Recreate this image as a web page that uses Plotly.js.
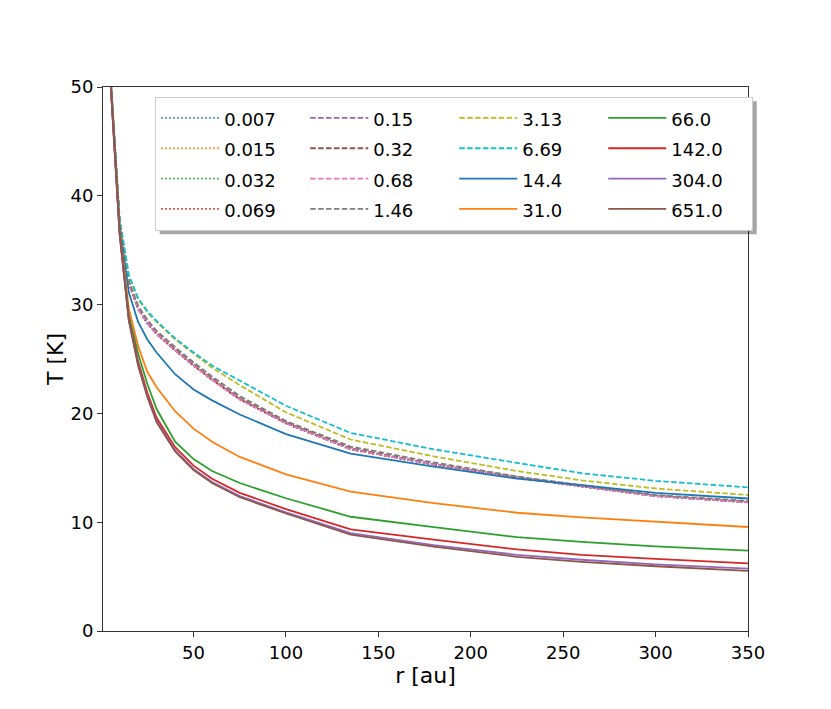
<!DOCTYPE html>
<html>
<head>
<meta charset="utf-8">
<script src="https://cdn.plot.ly/plotly-3.0.1.min.js"></script>
<style>
  body { margin: 0; background: #fff; }
  #grafico { width: 831px; height: 709px; }
</style>
</head>
<body>
<div id="grafico"></div>
<script>
// Raio (au) onde a temperatura foi lida
var raio = [1, 5, 10, 15, 20, 25, 30, 40, 50, 60, 75, 100, 135, 180, 225, 260, 300, 350];

// Rotulos da legenda
var rotulos = ['0.007', '0.015', '0.032', '0.069', '0.15', '0.32', '0.68', '1.46',
               '3.13', '6.69', '14.4', '31.0', '66.0', '142.0', '304.0', '651.0'];

// Temperatura T [K] para cada curva
var T_0007 = [62, 51, 37.6, 32.0, 29.6, 28.3, 27.3, 25.8, 24.4, 23.1, 21.3, 19.1, 16.7, 15.3, 14.1, 13.3, 12.4, 11.84];
var T_0015 = [62, 51, 37.6, 32.0, 29.6, 28.3, 27.3, 25.8, 24.4, 23.1, 21.3, 19.1, 16.7, 15.3, 14.1, 13.3, 12.4, 11.84];
var T_0032 = [62, 51, 37.6, 32.0, 29.6, 28.3, 27.3, 25.8, 24.4, 23.1, 21.3, 19.1, 16.7, 15.3, 14.1, 13.3, 12.4, 11.83];
var T_0069 = [62, 51, 37.6, 32.0, 29.6, 28.3, 27.3, 25.8, 24.4, 23.1, 21.3, 19.1, 16.7, 15.3, 14.1, 13.3, 12.4, 11.83];
var T_015  = [62, 51, 37.6, 32.0, 29.6, 28.3, 27.3, 25.8, 24.4, 23.1, 21.3, 19.1, 16.75, 15.3, 14.1, 13.3, 12.4, 11.85];
var T_032  = [62, 51, 37.6, 32.05, 29.7, 28.4, 27.4, 25.9, 24.5, 23.2, 21.4, 19.2, 16.8, 15.35, 14.15, 13.35, 12.45, 11.87];
var T_068  = [62, 51, 37.6, 32.0, 29.6, 28.3, 27.3, 25.8, 24.4, 23.1, 21.3, 19.1, 16.7, 15.3, 14.1, 13.3, 12.4, 11.82];
var T_146  = [62, 51, 37.6, 32.2, 29.9, 28.6, 27.6, 26.1, 24.7, 23.4, 21.6, 19.3, 16.95, 15.5, 14.2, 13.4, 12.5, 11.95];
var T_313  = [62, 51, 37.8, 32.6, 30.5, 29.3, 28.4, 26.8, 25.5, 24.2, 22.6, 20.1, 17.6, 16.05, 14.7, 13.85, 13.1, 12.5];
var T_669  = [62, 51, 37.9, 32.7, 30.6, 29.4, 28.5, 26.9, 25.6, 24.4, 23.0, 20.7, 18.2, 16.7, 15.45, 14.5, 13.8, 13.2];
var T_144  = [62, 51, 37.3, 31.1, 28.4, 26.8, 25.6, 23.6, 22.2, 21.2, 19.9, 18.1, 16.3, 15.1, 14.0, 13.4, 12.7, 12.18];
var T_310  = [62, 51, 37.0, 29.6, 26.2, 23.8, 22.4, 20.2, 18.6, 17.4, 16.0, 14.4, 12.8, 11.75, 10.87, 10.45, 10.07, 9.56];
var T_660  = [62, 51, 36.8, 29.0, 25.5, 22.7, 20.4, 17.4, 15.8, 14.7, 13.6, 12.2, 10.5, 9.55, 8.62, 8.2, 7.78, 7.39];
var T_1420 = [62, 51, 36.6, 28.7, 24.8, 21.9, 19.6, 16.9, 15.2, 14.0, 12.7, 11.2, 9.35, 8.4, 7.5, 7.0, 6.62, 6.22];
var T_3040 = [62, 51, 36.5, 28.6, 24.5, 21.6, 19.3, 16.6, 14.9, 13.7, 12.4, 10.9, 9.0, 7.9, 7.0, 6.55, 6.13, 5.73];
var T_6510 = [62, 51, 36.5, 28.5, 24.4, 21.5, 19.2, 16.5, 14.8, 13.6, 12.3, 10.8, 8.85, 7.75, 6.82, 6.35, 5.95, 5.52];

var temperaturas = [T_0007, T_0015, T_0032, T_0069, T_015, T_032, T_068, T_146,
                    T_313, T_669, T_144, T_310, T_660, T_1420, T_3040, T_6510];

// Cores padrao do matplotlib (tab10)
var cores = ['#1f77b4', '#ff7f0e', '#2ca02c', '#d62728', '#9467bd', '#8c564b', '#e377c2', '#7f7f7f', '#bcbd22', '#17becf'];

// pontilhado -> tracejado -> continuo
function estilo(i) {
    if (i < 4) return '1.5px,2.5px';
    if (i < 10) return '5.5px,2.4px';
    return 'solid';
}

var dados = [];
for (var i = 0; i < rotulos.length; i++) {
    // a legenda do matplotlib vai por colunas, a do plotly por linhas
    var coluna = Math.floor(i / 4);
    var linha = i % 4;
    dados.push({
        type: 'scatter',
        mode: 'lines',
        x: raio,
        y: temperaturas[i],
        // fonte da legenda maior deixa as linhas mais espacadas
        name: '<span style="font-size:18px">' + rotulos[i] + '</span>',
        legendrank: linha * 4 + coluna + 1,
        line: {
            color: cores[i % 10],
            width: 1.8,
            dash: estilo(i)
        }
    });
}

var layout = {
    width: 831,
    height: 709,
    paper_bgcolor: '#ffffff',
    plot_bgcolor: '#ffffff',
    font: { family: 'DejaVu Sans', size: 18, color: '#000' },
    margin: { l: 103, r: 83, t: 87, b: 78 },
    showlegend: true,
    legend: {
        orientation: 'h',
        x: 0.081,
        y: 0.982,
        xanchor: 'left',
        yanchor: 'top',
        itemwidth: 58,
        entrywidth: 76,
        bgcolor: '#ffffff',
        bordercolor: '#cccccc',
        borderwidth: 1,
        font: { family: 'DejaVu Sans', size: 21, color: '#000' }
    },
    xaxis: {
        range: [1, 350],
        tickvals: [50, 100, 150, 200, 250, 300, 350],
        ticks: 'outside',
        ticklen: 5,
        tickcolor: '#333',
        showgrid: false,
        zeroline: false,
        showline: true,
        linecolor: '#333',
        linewidth: 1,
        mirror: true,
        tickfont: { size: 18 },
        title: { text: 'r [au]', font: { size: 22 }, standoff: 1 }
    },
    yaxis: {
        range: [0, 50],
        tickvals: [0, 10, 20, 30, 40, 50],
        ticks: 'outside',
        ticklen: 5,
        tickcolor: '#333',
        showgrid: false,
        zeroline: false,
        showline: true,
        linecolor: '#333',
        linewidth: 1,
        mirror: true,
        tickfont: { size: 18 },
        title: { text: 'T [K]', font: { size: 22 }, standoff: 0 }
    }
};

Plotly.newPlot('grafico', dados, layout, { staticPlot: true }).then(function (gd) {
    // sombra da caixa da legenda, como no matplotlib
    var fundo = gd.querySelector('.legend .bg').getBoundingClientRect();
    var caixa = gd.getBoundingClientRect();
    var tam = gd._fullLayout._size;
    var px = function (v) { return (v - caixa.left - tam.l) / tam.w; };
    var py = function (v) { return 1 - (v - caixa.top - tam.t) / tam.h; };
    Plotly.relayout(gd, {
        shapes: [{
            type: 'rect', xref: 'paper', yref: 'paper', layer: 'above',
            x0: px(fundo.left + 4), x1: px(fundo.right + 4),
            y0: py(fundo.bottom + 4), y1: py(fundo.top + 4),
            line: { width: 0 }, fillcolor: 'rgba(0,0,0,0.35)'
        }]
    });
});
</script>
</body>
</html>
